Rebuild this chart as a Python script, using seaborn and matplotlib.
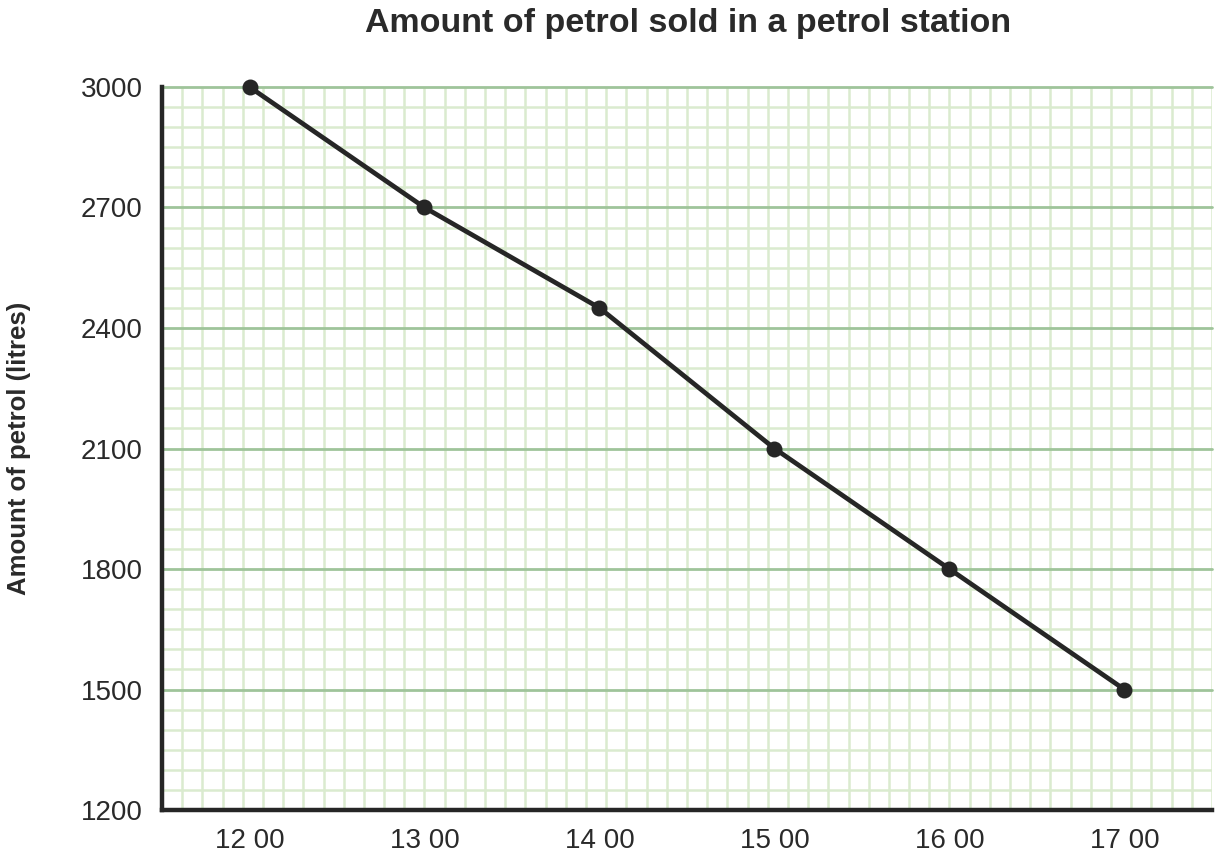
import numpy as np
import pandas as pd
import seaborn as sns
import matplotlib.pyplot as plt

# Data
hours = [12, 13, 14, 15, 16, 17]
hour_labels = ["12 00", "13 00", "14 00", "15 00", "16 00", "17 00"]
litres = [3000, 2700, 2450, 2100, 1800, 1500]
y_ticks = [1200, 1500, 1800, 2100, 2400, 2700, 3000]

df = pd.DataFrame({"hour": hours, "litres": litres})

sns.set_theme(style="white")
plt.rcParams["font.family"] = ["Liberation Sans", "DejaVu Sans"]

fig = plt.figure(figsize=(12.2, 8.57), dpi=100)
ax = fig.add_axes([0.1328, 0.0548, 0.8606, 0.8437])

xmin, xmax = 11.5, 17.5
ymin, ymax = 1200, 3000

# graph paper grid
for xv in np.linspace(xmin, xmax, 53)[1:]:
    ax.axvline(xv, color="#daebcf", lw=1.8, zorder=0)
for yv in np.arange(ymin + 50, ymax, 50):
    if yv % 300 != 0:
        ax.axhline(yv, color="#daebcf", lw=1.8, zorder=0)
for yv in y_ticks[1:]:
    ax.axhline(yv, color="#9fc49a", lw=2, zorder=1, clip_on=False)

sns.lineplot(data=df, x="hour", y="litres", ax=ax, color="#262626",
             linewidth=3.4, marker="o", markersize=11.5, markeredgewidth=0,
             zorder=5, clip_on=False)

ax.set_xlim(xmin, xmax)
ax.set_ylim(ymin, ymax)
ax.set_xticks(hours)
ax.set_xticklabels(hour_labels)
ax.set_yticks(y_ticks)
ax.tick_params(axis="both", length=0, labelsize=20, colors="#2a2a2a")
ax.tick_params(axis="y", pad=14)
ax.tick_params(axis="x", pad=13)

for side in ["top", "right"]:
    ax.spines[side].set_visible(False)
for side in ["left", "bottom"]:
    ax.spines[side].set_color("#262626")
    ax.spines[side].set_linewidth(3.2)

ax.set_xlabel("")
ax.set_ylabel("Amount of petrol (litres)", fontsize=18.5, fontweight="bold",
              color="#2a2a2a", labelpad=36)
fig.suptitle("Amount of petrol sold in a petrol station", fontsize=24.5,
             fontweight="bold", color="#2a2a2a", x=0.564, y=0.991)

fig.savefig("out.png", dpi=100)
